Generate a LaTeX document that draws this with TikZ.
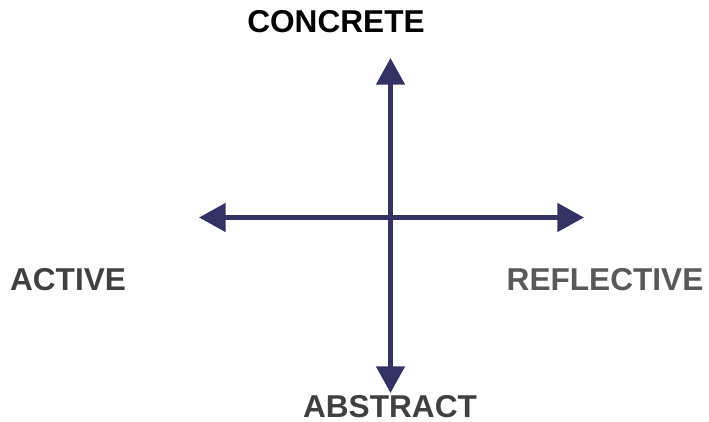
\documentclass[tikz,border=0pt]{standalone}
\usepackage{fontspec}
\setmainfont{Liberation Sans}
\usetikzlibrary{arrows.meta}
\definecolor{axisblue}{RGB}{50,50,100}
\definecolor{darkgraytext}{RGB}{64,64,64}
\definecolor{midgraytext}{RGB}{89,89,89}

\begin{document}
\begin{tikzpicture}[x=0.75pt,y=-0.75pt,
  axis/.style={line width=3.6pt,axisblue,{Triangle[length=20pt,width=21pt]}-{Triangle[length=20pt,width=21pt]}},
  pole/.style={font=\fontsize{23.7}{28}\selectfont\bfseries,inner sep=0pt,anchor=base}]
\useasboundingbox (0,0) rectangle (709,421);

% Ends
\coordinate (top) at (390.5,58);
\coordinate (bottom) at (390.5,393);
\coordinate (left) at (199,217.5);
\coordinate (right) at (584,217.5);

% Lines
\draw[axis] (bottom) -- (top);
\draw[axis] (left) -- (right);

% Nodes
\node[pole,black] (concrete) at (336,32.5) {CONCRETE};
\node[pole,darkgraytext] (active) at (68,290) {ACTIVE};
\node[pole,midgraytext] (reflective) at (605,290) {REFLECTIVE};
\node[pole,darkgraytext] (abstract) at (390,417.5) {ABSTRACT};

\end{tikzpicture}
\end{document}
